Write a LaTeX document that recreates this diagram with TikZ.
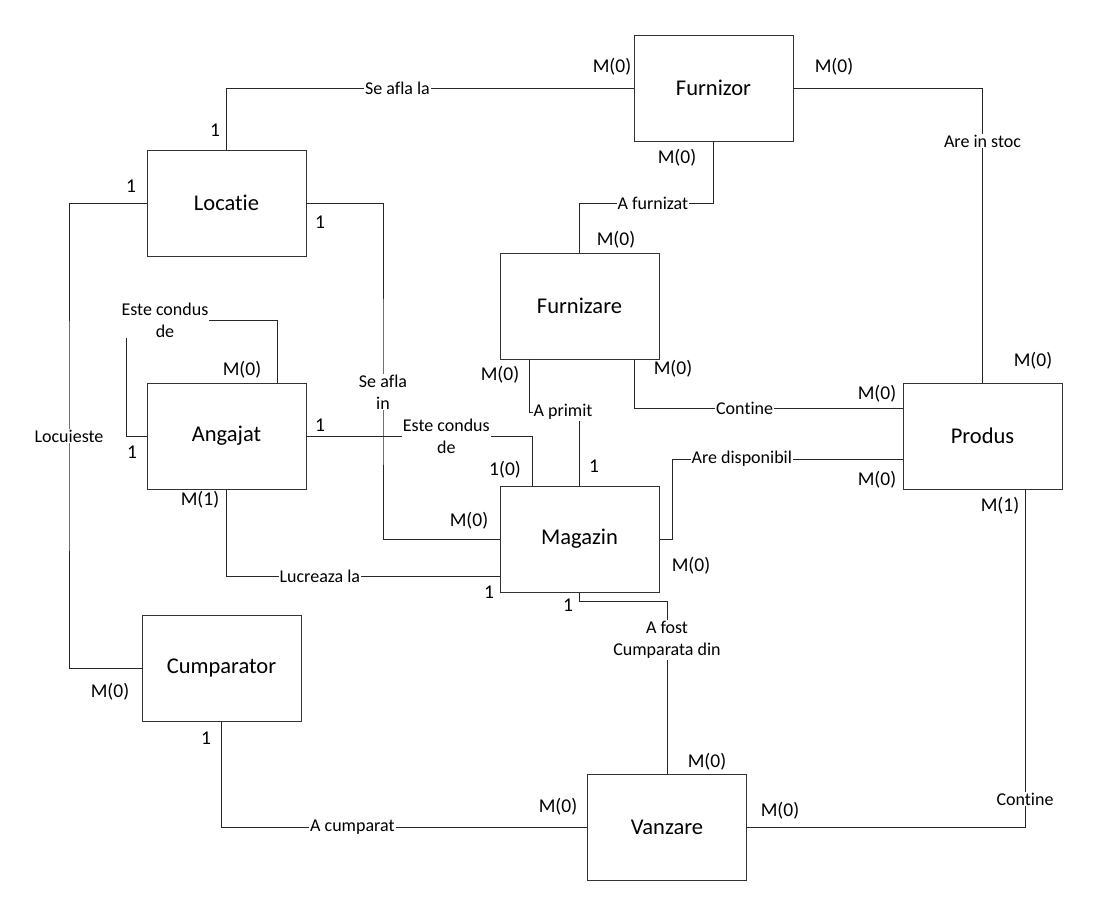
\documentclass[tikz,border=0pt]{standalone}
\usepackage{fontspec}
\setmainfont[Ligatures={NoCommon}]{Carlito}
\begin{document}
\begin{tikzpicture}[x=1pt,y=-1pt,
  ent/.style={draw=black!80,line width=1pt,minimum width=159pt,minimum height=106pt,inner sep=0pt,font=\fontsize{22.5}{26}\selectfont},
  conn/.style={draw=black!85,line width=1pt},
  lbl/.style={fill=white,inner sep=1pt,font=\fontsize{18}{22}\selectfont,align=center},
  card/.style={inner sep=0pt,font=\fontsize{19.5}{23}\selectfont}]
\useasboundingbox[fill=white] (0,0) rectangle (1100,911);

% entities
\node[ent] (fz)   at (713.5,88)  {Furnizor};
\node[ent] (loc)  at (226.5,203) {Locatie};
\node[ent] (fzr)  at (579.5,306) {Furnizare};
\node[ent] (ang)  at (226.5,436) {Angajat};
\node[ent] (prod) at (982.5,436) {Produs};
\node[ent] (mag)  at (579.5,539) {Magazin};
\node[ent] (cump) at (221.5,668) {Cumparator};
\node[ent] (vz)   at (667,827.5) {Vanzare};

% corner coordinates
\coordinate (cfz) at (579.5,203);
\coordinate (clc) at (69,436);
\coordinate (csa) at (383,392);
\coordinate (clp) at (126,320);
\coordinate (cap) at (579.5,412);
\coordinate (cad) at (672,459);
\coordinate (caf) at (667,601);

% connectors
\draw[conn] (loc.north) |- node[lbl,pos=0.71]{Se afla la} (fz.west);
\draw[conn] (fz.east) -| node[lbl,pos=0.59]{Are in stoc} (prod.north);
\draw[conn] (fz.south) |- node[lbl,pos=0.726]{A furnizat} (cfz) -- (fzr.north);
\draw[conn] (loc.west) -| (clc) node[lbl]{Locuieste} |- (cump.west);
\draw[conn] (loc.east) -| (csa) node[lbl]{Se afla\\in} |- (mag.west);
\draw[conn] (ang.west) -| (clp) -| node[lbl,pos=0.129]{Este condus\\de} ([xshift=50.5pt]ang.north);
\draw[conn] (ang.east) -| node[lbl,pos=0.31]{Este condus\\de} ([xshift=-47.5pt]mag.north);
\draw[conn] (ang.south) |- node[lbl,pos=0.671]{Lucreaza la} ([yshift=-37pt]mag.west);
\draw[conn] ([xshift=-50.5pt]fzr.south) |- node[lbl,pos=0.837]{A primit} (cap) -- (mag.north);
\draw[conn] ([xshift=54.5pt]fzr.south) |- node[lbl,pos=0.706]{Contine} ([yshift=28pt]prod.west);
\draw[conn] (mag.east) -| (cad) -- node[lbl,pos=0.303]{Are disponibil} ([yshift=-23pt]prod.west);
\draw[conn] (mag.south) |- (caf) -- node[lbl,pos=0.225]{A fost\\Cumparata din} (vz.north);
\draw[conn] (cump.south) |- node[lbl,pos=0.679]{A cumparat} (vz.west);
\draw[conn] (vz.east) -| node[lbl,pos=0.542]{Contine} ([xshift=42.5pt]prod.south);

% cardinalities
\node[card] (k1)  at (612,67)   {M(0)};
\node[card] (k2)  at (834,67)   {M(0)};
\node[card] (k3)  at (677,158)  {M(0)};
\node[card] (k4)  at (215,130)  {1};
\node[card] (k5)  at (131,186)  {1};
\node[card] (k6)  at (320,222)  {1};
\node[card] (k7)  at (616,240)  {M(0)};
\node[card] (k8)  at (500,375)  {M(0)};
\node[card] (k9)  at (673,369)  {M(0)};
\node[card] (k10) at (1033,361) {M(0)};
\node[card] (k11) at (877,394)  {M(0)};
\node[card] (k12) at (877,480)  {M(0)};
\node[card] (k13) at (1000,506) {M(1)};
\node[card] (k14) at (242,370)  {M(0)};
\node[card] (k15) at (132,452)  {1};
\node[card] (k16) at (320,425)  {1};
\node[card] (k17) at (200,500)  {M(1)};
\node[card] (k18) at (505,470)  {1(0)};
\node[card] (k19) at (594,466)  {1};
\node[card] (k20) at (469,521)  {M(0)};
\node[card] (k21) at (489,592)  {1};
\node[card] (k22) at (691,566)  {M(0)};
\node[card] (k23) at (568,605)  {1};
\node[card] (k24) at (110,692)  {M(0)};
\node[card] (k25) at (206,738)  {1};
\node[card] (k26) at (558,807)  {M(0)};
\node[card] (k27) at (707,762)  {M(0)};
\node[card] (k28) at (780,811)  {M(0)};
\end{tikzpicture}
\end{document}
